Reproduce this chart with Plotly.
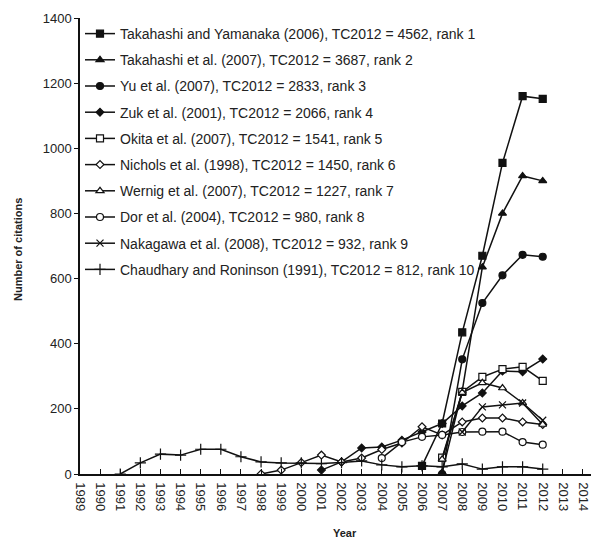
import plotly.graph_objects as go

years_all = list(range(1989, 2015))

names = [
    "Takahashi and Yamanaka (2006), TC2012 = 4562, rank 1",
    "Takahashi et al. (2007), TC2012 = 3687, rank 2",
    "Yu et al. (2007), TC2012 = 2833, rank 3",
    "Zuk et al. (2001), TC2012 = 2066, rank 4",
    "Okita et al. (2007), TC2012 = 1541, rank 5",
    "Nichols et al. (1998), TC2012 = 1450, rank 6",
    "Wernig et al. (2007), TC2012 = 1227, rank 7",
    "Dor et al. (2004), TC2012 = 980, rank 8",
    "Nakagawa et al. (2008), TC2012 = 932, rank 9",
    "Chaudhary and Roninson (1991), TC2012 = 812, rank 10",
]

takahashi_yamanaka_x = [2006, 2007, 2008, 2009, 2010, 2011, 2012]
takahashi_yamanaka_y = [25, 155, 435, 670, 955, 1160, 1152]

takahashi_x = [2007, 2008, 2009, 2010, 2011, 2012]
takahashi_y = [5, 255, 635, 800, 915, 900]

yu_x = [2007, 2008, 2009, 2010, 2011, 2012]
yu_y = [0, 352, 525, 610, 673, 667]

zuk_x = [2001, 2002, 2003, 2004, 2005, 2006, 2007, 2008, 2009, 2010, 2011, 2012]
zuk_y = [12, 37, 80, 83, 104, 129, 155, 209, 249, 316, 314, 353]

okita_x = [2007, 2008, 2009, 2010, 2011, 2012]
okita_y = [50, 252, 298, 322, 329, 286]

nichols_x = [1998, 1999, 2000, 2001, 2002, 2003, 2004, 2005, 2006, 2007, 2008, 2009, 2010, 2011, 2012]
nichols_y = [0, 12, 35, 58, 37, 49, 75, 95, 145, 120, 160, 172, 172, 160, 152]

wernig_x = [2007, 2008, 2009, 2010, 2011, 2012]
wernig_y = [45, 250, 280, 264, 218, 152]

dor_x = [2004, 2005, 2006, 2007, 2008, 2009, 2010, 2011, 2012]
dor_y = [49, 98, 114, 120, 129, 130, 130, 98, 90]

nakagawa_x = [2008, 2009, 2010, 2011, 2012]
nakagawa_y = [129, 206, 212, 218, 165]

chaudhary_x = list(range(1991, 2013))
chaudhary_y = [0, 34, 61, 58, 76, 76, 53, 37, 34, 34, 32, 35, 40, 28, 22, 25, 22, 31, 15, 22, 22, 15]

series = [
    (takahashi_yamanaka_x, takahashi_yamanaka_y, "square", "#111", 7),
    (takahashi_x, takahashi_y, "triangle-up", "#111", 7),
    (yu_x, yu_y, "circle", "#111", 7),
    (zuk_x, zuk_y, "diamond", "#111", 6),
    (okita_x, okita_y, "square", "white", 7),
    (nichols_x, nichols_y, "diamond", "white", 6),
    (wernig_x, wernig_y, "triangle-up", "white", 7),
    (dor_x, dor_y, "circle", "white", 7),
    (nakagawa_x, nakagawa_y, "x-thin", "#111", 7),
    (chaudhary_x, chaudhary_y, "cross-thin", "#111", 8),
]

fig = go.Figure()
for i, (xs, ys, sym, fill, sz) in enumerate(series):
    fig.add_trace(go.Scatter(
        x=xs, y=ys, name=names[i], mode="lines+markers",
        legendgroup=str(i),
        line=dict(color="#111", width=1.5),
        marker=dict(symbol=sym, color=fill, size=sz,
                    line=dict(color="#111", width=1.2)),
    ))

font_family = "Liberation Sans, Arial, sans-serif"
fig.update_layout(
    width=591, height=543,
    margin=dict(l=80, r=0, t=18, b=69),
    paper_bgcolor="white", plot_bgcolor="white",
    font=dict(family=font_family, size=12, color="#222"),
    showlegend=True,
    legend=dict(x=0.0, y=1.0, xanchor="left", yanchor="top",
                font=dict(size=14, color="#222"),
                bgcolor="rgba(0,0,0,0)", tracegroupgap=5,
                itemwidth=30),
    xaxis=dict(range=[1989, 2014.4], tickmode="array", tickvals=years_all,
               ticktext=[str(y) for y in years_all], tickangle=90,
               ticks="inside", ticklen=5, tickcolor="#111",
               showline=True, linecolor="#111", linewidth=1.5,
               showgrid=False, zeroline=False, ticklabelstandoff=4,
               tickfont=dict(size=13, color="#222")),
    yaxis=dict(range=[0, 1400], dtick=200, ticks="outside", ticklen=4,
               tickcolor="#111", showline=True, linecolor="#111", linewidth=1.5,
               showgrid=False, zeroline=False,
               tickfont=dict(size=13, color="#222")),
    annotations=[
        dict(text="<b>Number of citations</b>", x=0, y=0, xref="paper",
             yref="paper", showarrow=False, textangle=-90,
             font=dict(size=11, color="#222")),
        dict(text="<b>Year</b>", x=0.5, y=0, showarrow=False,
             xref="paper", yref="paper",
             font=dict(size=11, color="#222")),
    ],
)
pw = 591 - 80
ph = 543 - 18 - 69
fig.layout.annotations[0].update(x=(18 - 80) / pw, y=(543 - 69 - 250) / ph,
                                 xanchor="center", yanchor="middle")
fig.layout.annotations[1].update(x=(345 - 80) / pw, y=(543 - 69 - 533) / ph,
                                 xanchor="center", yanchor="middle")

fig.write_html("out.html")
